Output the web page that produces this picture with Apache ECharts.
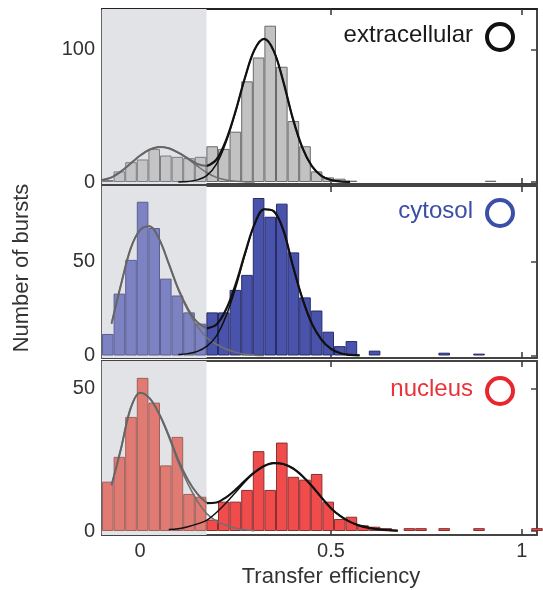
<!DOCTYPE html>
<html><head><meta charset="utf-8">
<script src="https://cdn.jsdelivr.net/npm/echarts@6/dist/echarts.min.js"></script>
<style>html,body{margin:0;padding:0;background:#fff}#c{width:543px;height:590px}</style>
</head><body><div id="c"></div>
<script>
// histogram bins
const binStart = -0.1;
const binWidth = 0.0304;
const shadeEnd = 0.174;
const panelNames = ['extracellular', 'cytosol', 'nucleus'];
const extracellularCounts = [1.5, 8, 15, 17, 25, 20, 19, 18, 19, 27, 25, 38, 76, 94, 118, 87, 46, 27, 8, 3.5, 2.5, 1, 0, 0, 0, 0, 0, 0, 0, 0, 0, 0, 0, 1, 0, 0, 0, 0];
const cytosolCounts = [11.5, 33, 51, 82, 68, 41, 32, 23, 17, 23, 23, 35, 43, 84, 74, 81, 55, 31, 24, 12.7, 5, 7.7, 0, 2.6, 0, 0, 0, 0, 0, 1.5, 0, 0, 1, 0, 0, 0, 0, 0];
const nucleusCounts = [17.3, 26, 40, 53.7, 45, 23, 33, 13, 12, 4, 10.3, 10.3, 14.4, 28, 14.4, 31, 19, 18, 20, 10.3, 4.2, 5, 2, 1.5, 1, 0, 1, 1, 0, 1, 0, 0, 1, 0, 0, 0, 0, 1];
// fitted curves read at these x positions
const fitX = [-0.1, -0.075, -0.05, -0.025, 0, 0.025, 0.05, 0.075, 0.1, 0.125, 0.15, 0.175, 0.2, 0.225, 0.25, 0.275, 0.3, 0.325, 0.35, 0.375, 0.4, 0.425, 0.45, 0.475, 0.5, 0.525, 0.55, 0.575, 0.6, 0.625, 0.65, 0.675, 0.7];
const extracellularLow = [1.5, 3.5, 8, 14, 20, 24.5, 26.5, 25.5, 22, 17.5, 12, 7, 3.5, 1.5, 0.5, 0.1, 0, null, null, null, null, null, null, null, null, null, null, null, null, null, null, null, null];
const extracellularHigh = [null, null, null, null, null, null, null, null, 0.1, 0.4, 1.6, 5, 13.5, 30, 53, 79, 100, 108, 99, 76, 48, 26, 12, 4.7, 1.5, 0.4, 0.1, null, null, null, null, null, null];
const cytosolLow = [null, 17, 38, 57, 67, 69, 62, 49, 35, 24, 15.5, 9.5, 6, 3.5, 1.8, 0.7, 0.2, 0, null, null, null, null, null, null, null, null, null, null, null, null, null, null, null];
const cytosolHigh = [null, null, null, null, null, null, null, null, 0.5, 1, 2.2, 5, 10.5, 21, 36, 54, 70, 78, 77, 67, 48, 30.5, 17, 8.5, 3.5, 1.2, 0.3, 0.1, null, null, null, null, null];
const nucleusLow = [null, 16, 29, 43, 48.5, 46.5, 41, 33, 24, 16.5, 10.5, 6, 3.5, 2, 1, 0.4, 0.1, null, null, null, null, null, null, null, null, null, null, null, null, null, null, null, null];
const nucleusHigh = [null, null, null, null, null, null, null, 0.5, 0.8, 1.5, 2.5, 3.8, 6.5, 9.8, 13.5, 17.3, 20.5, 22.8, 23.8, 23.5, 22, 19.3, 15.8, 11.8, 8, 5.2, 3.2, 1.9, 1.1, 0.6, 0.3, 0.1, null];
// axes
const xTicks = [0, 0.5, 1];
const yTicksTop = [0, 100];
const yTicksMid = [0, 50];
const yTicksBot = [0, 50];

const counts = [extracellularCounts, cytosolCounts, nucleusCounts];
const lows = [extracellularLow, cytosolLow, nucleusLow];
const highs = [extracellularHigh, cytosolHigh, nucleusHigh];
const yTicks = [yTicksTop, yTicksMid, yTicksBot];

const grids = [
  {left: 102, right: 6, top: 9, height: 175},
  {left: 102, right: 6, top: 186, height: 172},
  {left: 102, right: 6, top: 361, height: 174}
];
const yRanges = [[-1.5, 130.6], [-1.33, 90.4], [-1.4, 59.6]];
const barFill = ['#c2c2c2', '#4a53ab', '#f04c4c'];
const barBorder = ['#6a6a6a', '#272c6a', '#8a3030'];
const barFillShade = ['#c4c4c6', '#7d82c3', '#e07b73'];
const barBorderShade = ['#7e7e80', '#5a5e92', '#a0605a'];
const labelColor = ['#1a1a1a', '#3b4ea6', '#e8333a'];
const ringColor = ['#111111', '#3b4ea8', '#e8262c'];
const labelY = [37, 213, 391];
const font = 'Liberation Sans, Arial, sans-serif';

const xAxis = [], yAxis = [], series = [];
grids.forEach((g, gi) => {
  const tickStyle = {show: true, inside: true, length: 6, customValues: xTicks, lineStyle: {color: '#333', width: 1.5}};
  xAxis.push({
    type: 'value', gridIndex: gi, min: -0.1, max: 1.04, position: 'bottom',
    axisLine: {show: true, onZero: false, lineStyle: {color: '#444', width: 2}},
    axisTick: tickStyle,
    axisLabel: {show: gi === 2, customValues: xTicks, fontSize: 20, color: '#333', fontFamily: font, margin: 6},
    splitLine: {show: false}
  });
  xAxis.push({
    type: 'value', gridIndex: gi, min: -0.1, max: 1.04, position: 'top',
    axisLine: {show: true, onZero: false, lineStyle: {color: gi === 0 ? '#222' : '#444', width: 2}},
    axisTick: tickStyle,
    axisLabel: {show: false},
    splitLine: {show: false}
  });
  const yt = {show: true, inside: true, length: 6, customValues: yTicks[gi], lineStyle: {color: '#444', width: 1.5}};
  yAxis.push({
    type: 'value', gridIndex: gi, min: yRanges[gi][0], max: yRanges[gi][1], position: 'left',
    axisLine: {show: true, onZero: false, lineStyle: {color: '#666', width: 2}},
    axisTick: yt,
    axisLabel: {show: true, customValues: yTicks[gi], fontSize: 20, color: '#333', fontFamily: font, margin: 7},
    splitLine: {show: false}
  });
  yAxis.push({
    type: 'value', gridIndex: gi, min: yRanges[gi][0], max: yRanges[gi][1], position: 'right',
    axisLine: {show: true, onZero: false, lineStyle: {color: '#444', width: 2}},
    axisTick: yt,
    axisLabel: {show: false},
    splitLine: {show: false}
  });
  const xi = gi * 2, yi = gi * 2;
  const barData = [];
  counts[gi].forEach((v, i) => {
    if (v > 0) {
      const x = binStart + (i + 0.5) * binWidth;
      const item = {value: [x, v]};
      if (x < shadeEnd) item.itemStyle = {color: barFillShade[gi], borderColor: barBorderShade[gi]};
      barData.push(item);
    }
  });
  series.push({
    type: 'line', xAxisIndex: xi, yAxisIndex: yi, data: [], z: 1, silent: true,
    markArea: {silent: true, itemStyle: {color: '#e2e3e6'},
      data: [[{xAxis: -0.1}, {xAxis: shadeEnd}]]}
  });
  series.push({
    type: 'bar', xAxisIndex: xi, yAxisIndex: yi, data: barData, barWidth: '100%', z: 2,
    itemStyle: {color: barFill[gi], borderColor: barBorder[gi], borderWidth: 1}, silent: true
  });
  const lo = lows[gi], hi = highs[gi];
  const lowData = [], highData = [], sumL = [], sumR = [];
  fitX.forEach((x, j) => {
    if (lo[j] != null) lowData.push([x, lo[j]]);
    if (hi[j] != null) highData.push([x, hi[j]]);
    if (lo[j] != null || hi[j] != null) {
      const s = (lo[j] || 0) + (hi[j] || 0);
      if (x <= 0.176) sumL.push([x, s]);
      if (x >= 0.174) sumR.push([x, s]);
    }
  });
  const lineBase = {type: 'line', xAxisIndex: xi, yAxisIndex: yi, showSymbol: false, smooth: 0.35, silent: true, z: 4};
  series.push(Object.assign({}, lineBase, {data: lowData, lineStyle: {color: '#707070', width: 1.5}}));
  series.push(Object.assign({}, lineBase, {data: highData, lineStyle: {color: '#111', width: 1.5}}));
  series.push(Object.assign({}, lineBase, {data: sumL, lineStyle: {color: '#666', width: 2}}));
  series.push(Object.assign({}, lineBase, {data: sumR, lineStyle: {color: '#111', width: 2.2}}));
});

const graphic = [];
panelNames.forEach((name, gi) => {
  graphic.push({type: 'text', right: 70, top: labelY[gi] - 14, style: {text: name, fill: labelColor[gi], font: '24px ' + font, textAlign: 'right'}});
  graphic.push({type: 'circle', shape: {cx: 500, cy: labelY[gi], r: 13}, style: {fill: 'none', stroke: ringColor[gi], lineWidth: 4}});
});
graphic.push({type: 'text', x: 22, y: 268, rotation: Math.PI / 2, style: {text: 'Number of bursts', fill: '#333', font: '22px ' + font, textAlign: 'center', textVerticalAlign: 'middle'}});
graphic.push({type: 'text', x: 331, y: 577, style: {text: 'Transfer efficiency', fill: '#333', font: '22px ' + font, textAlign: 'center', textVerticalAlign: 'middle'}});

const chart = echarts.init(document.getElementById('c'), null, {renderer: 'canvas'});
chart.setOption({animation: false, backgroundColor: '#fff', grid: grids, xAxis, yAxis, series, graphic});
</script></body></html>
